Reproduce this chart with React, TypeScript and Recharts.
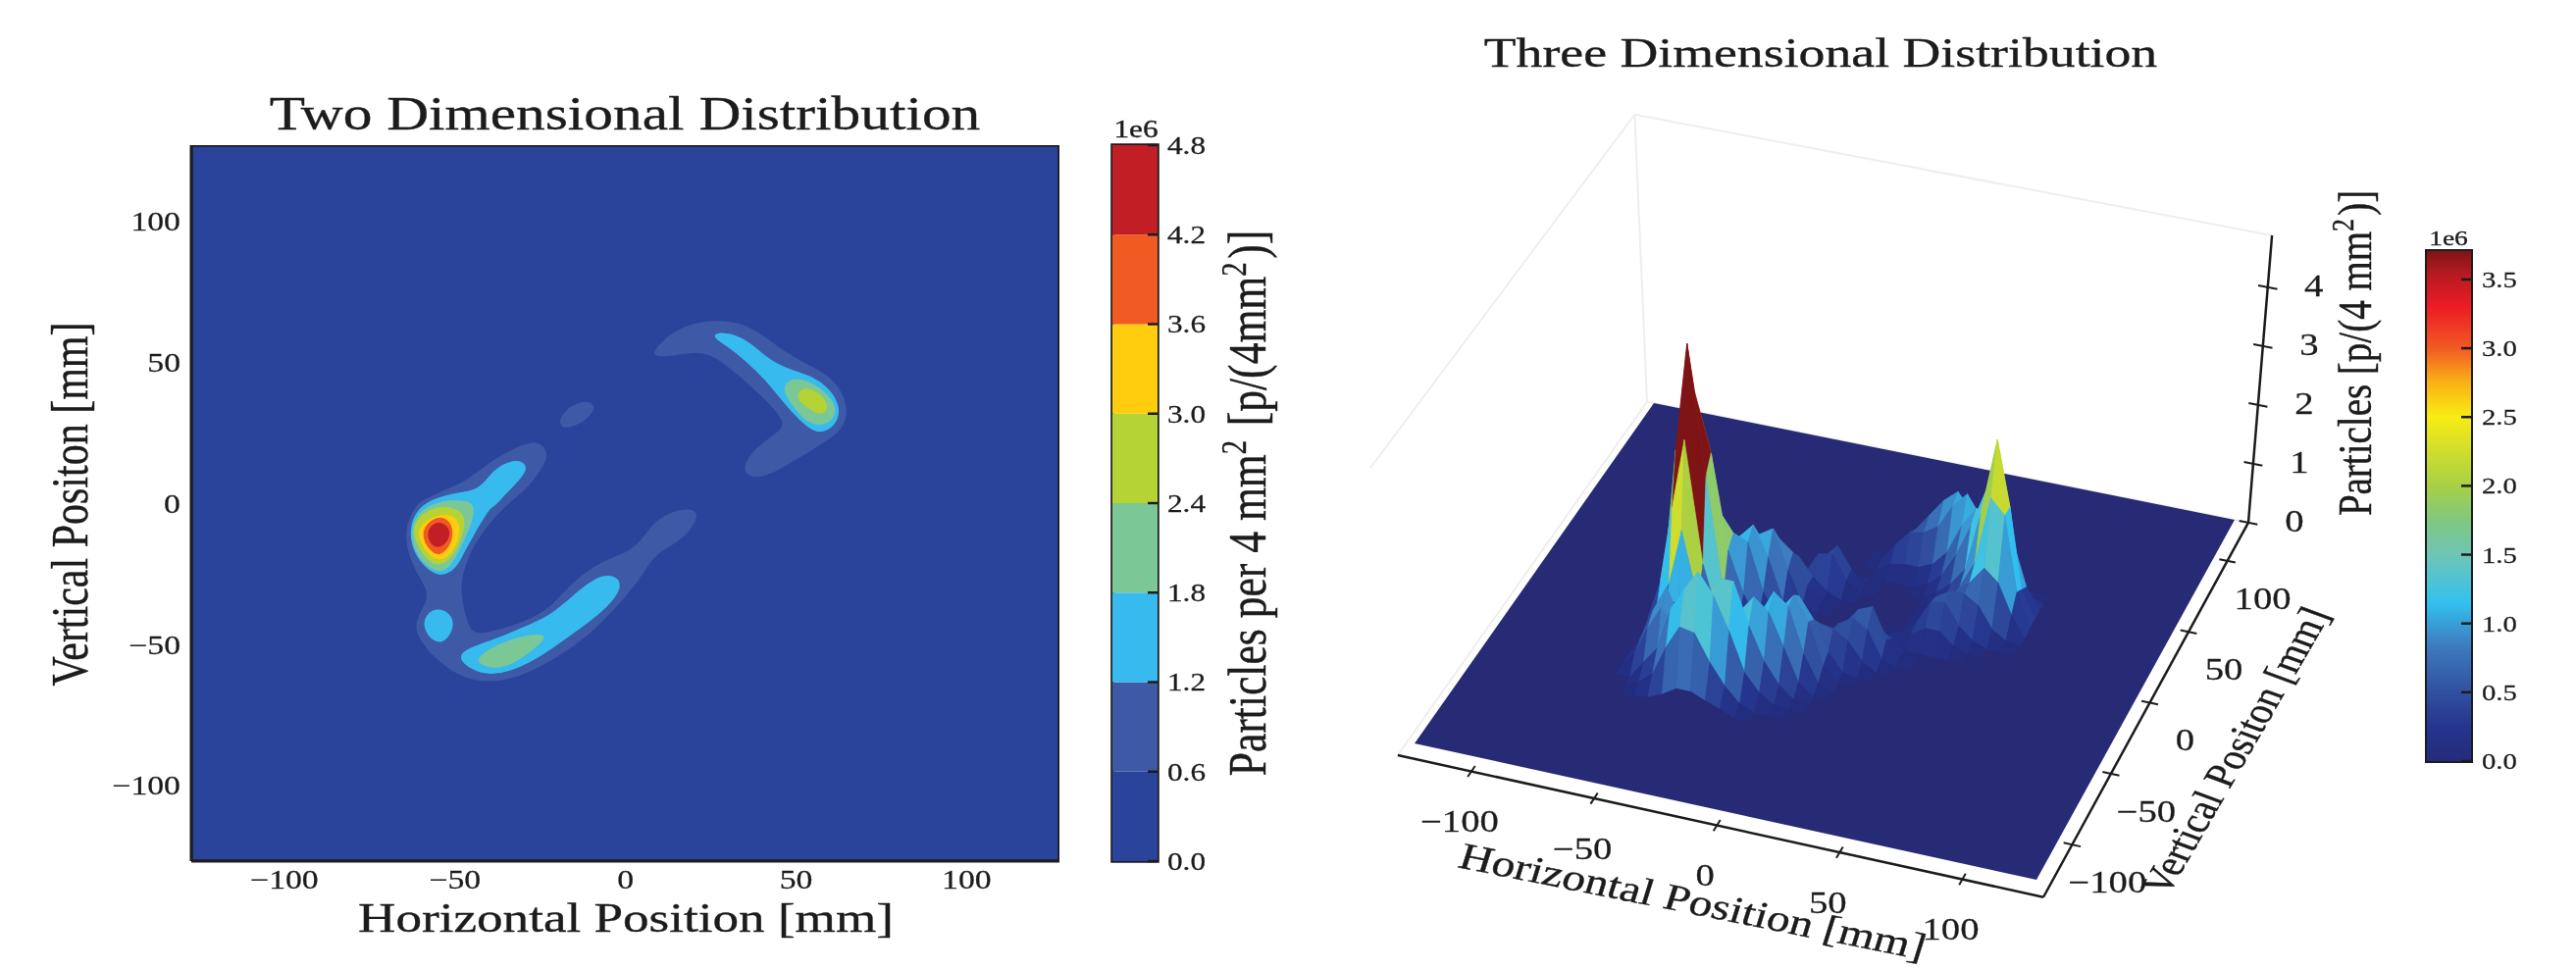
import React from "react";
import { ScatterChart, Scatter, XAxis, YAxis, BarChart, Bar, ReferenceArea } from "recharts";

const FONT = "'Liberation Serif', serif";
const INK = "#1c1c1c";
const BG2D = "#2a439b";
const FLOOR = "#272a75";

// ---------- 2-D contour map ----------
const axisTicks2D = [-100, -50, 0, 50, 100];
const levelEdges = [0, 0.6, 1.2, 1.8, 2.4, 3.0, 3.6, 4.2, 4.8];
const levelColors = ["#2a439b", "#3e59a6", "#37bbee", "#7cc796", "#b6d335", "#ffcd0e", "#f15a22", "#c11e25"];

const ringOuter = [[-24.4,21.2],[-22.4,17.1],[-25,11.3],[-29.5,4.4],[-35.9,-1.4],[-42.3,-10.6],[-46.2,-18.8],[-48.7,-29.2],[-47.2,-38.4],[-45.5,-45.4],[-42.3,-46.5],[-32,-43],[-23,-38.4],[-16.7,-29.2],[-9,-21.6],[-1.3,-18.2],[3.8,-14.7],[7.7,-7.2],[12.8,-3.1],[19,-1.5],[22,-4],[17.5,-12],[12.8,-15.3],[7.7,-19.3],[5,-25.7],[-1.3,-35],[-10.3,-46.5],[-19.2,-54],[-29.5,-61],[-39.7,-63.9],[-48.7,-61.6],[-56.4,-54.6],[-61.5,-46.5],[-61.5,-40.7],[-57,-32.6],[-60.3,-26.9],[-64,-17.6],[-64.7,-8.3],[-61.5,-0.9],[-60,0.9],[-51.3,5.6],[-46.2,8.4],[-41,13.7],[-33.3,19.4],[-27.6,22]];
const arcOuter = [[8.3,54.2],[12.8,60],[19.3,64],[27.8,65.2],[36.2,63.4],[43.5,56.5],[50.8,50.7],[59.2,46],[64.1,39],[65.3,31],[62.9,25.2],[56.8,20.6],[50.8,16],[43.5,10.8],[37.5,8.4],[33.8,11.9],[37.5,19.4],[44.7,25.2],[47.1,28.7],[41.1,36.8],[32.6,46],[25.4,53],[19.3,53.6],[12,51.9],[8.3,52.4]];
const dotOuter = [[-10.5,36.8],[-8.4,33.5],[-12.6,28.4],[-18.4,25.9],[-19.9,29.7],[-16.2,34.9]];
const blobL12 = [[-32,16],[-28.8,13.7],[-29.5,10.2],[-35.3,3.2],[-38.5,-1.4],[-39.7,-1.4],[-44.2,-10.6],[-47.4,-17.6],[-49.4,-22.8],[-53.8,-26.3],[-58.3,-23.4],[-62.2,-17.6],[-63.5,-9.5],[-61.5,-2.5],[-57,1.5],[-50,3.8],[-44.9,4.4],[-41.7,6.7],[-38.5,12.5]];
const blobL18 = [[-43.8,0.3],[-45,-7.2],[-48.3,-15.6],[-51,-22.2],[-54.5,-24.8],[-58.7,-22.2],[-62.4,-15.6],[-62.9,-8.1],[-60,-2],[-53.8,1],[-48.8,1.2]];
const blobL24 = [[-52.4,-0.8],[-46.8,-3.1],[-47.4,-10.8],[-50.2,-18.4],[-54.6,-22.8],[-58.8,-19.6],[-62.4,-11.8],[-61.8,-6],[-57.4,-1.8]];
const blobL30 = [[-53.6,-3],[-48.6,-5.4],[-48.6,-12],[-50.8,-17.6],[-54.6,-21],[-58.2,-17.6],[-61,-12],[-60.4,-7.4]];
const blobL36 = [[-53.6,-4.3],[-50.6,-7.4],[-50.6,-13.2],[-52.9,-17.2],[-55.2,-18.8],[-58.6,-15.2],[-59.8,-9.9],[-57.4,-5.9]];
const blobL42 = [[-54.4,-6],[-51.2,-9],[-51.8,-13.4],[-55.2,-16.6],[-58.2,-12.9],[-57.8,-8.2]];
const dotL12 = [[-55,-37],[-51.3,-38.9],[-50,-43.6],[-52.9,-49.6],[-56.7,-49.1],[-59.6,-43.6],[-58.3,-38.9]];
const ridge12 = [[-7.7,-25.1],[-2.6,-25.7],[-1,-29.2],[-3.8,-35],[-10.3,-41.9],[-19.2,-49.4],[-28.2,-57],[-38.5,-61.3],[-44.9,-59.3],[-49.1,-55.2],[-47.4,-51.7],[-38.5,-48.3],[-29.5,-43.6],[-21.8,-39.6],[-15.4,-32.6]];
const ridge18 = [[-21.4,-45.8],[-27.6,-52.6],[-35.8,-59],[-41.6,-57.8],[-44.4,-55.4],[-38.8,-50.6],[-30.6,-46.8]];
const arc12 = [[24.8,59.4],[28.4,61],[35,58.8],[41.1,51.9],[47.1,47.8],[54.4,45.5],[60.4,40.3],[63.2,33.3],[61.6,27.5],[56.8,24.4],[52.6,27.5],[47.1,34.5],[41.1,43.8],[35,50.7],[29.6,55.9]];
const arc18 = [[48.7,44.8],[54.6,43.3],[60.5,37.6],[62.2,31.8],[59,27.6],[53.6,27.9],[49,34.4],[45.6,40.8]];
const arc24 = [[52.4,41.8],[57.2,39],[59.8,34.4],[57.8,30.8],[53.6,33.6],[49.4,37.8]];

const contours: [number[][], number][] = [
  [ringOuter, 1],[arcOuter, 1],[dotOuter, 1],
  [blobL12, 2],[dotL12, 2],[ridge12, 2],[arc12, 2],
  [blobL18, 3],[ridge18, 3],[arc18, 3],
  [blobL24, 4],[arc24, 4],
  [blobL30, 5],[blobL36, 6],[blobL42, 7],
];
const frame2D = [[-127.3,-126.8],[127.2,-126.8],[127.2,127],[-127.3,127]];
const xy = (p: number[][]) => p.map(([x, y]) => ({ x, y }));

// ---------- colourbars ----------
const cb3dTicks = [0, 0.5, 1, 1.5, 2, 2.5, 3, 3.5];
const cb3dMax = 3.706;
const jetValues = [0, 0.25, 0.5, 0.85, 1.15, 1.5, 1.75, 2.0, 2.5, 2.75, 3.0, 3.3, 3.55, 3.706];
const jetColors = ["#232b7b", "#25358e", "#31509f", "#3d7dc0", "#33c1ef", "#6fc5b5", "#80c880", "#a8cf45", "#f7ec13", "#fbb116", "#f15a24", "#ed1c24", "#b31a21", "#7f1416"];

const hex = (c: string) => [1, 3, 5].map((i) => parseInt(c.slice(i, i + 2), 16));
function jet(v: number) {
  const z = Math.max(0, Math.min(cb3dMax, v));
  let i = 0;
  while (i < jetValues.length - 2 && z > jetValues[i + 1]) i++;
  const t = (z - jetValues[i]) / (jetValues[i + 1] - jetValues[i]);
  const a = hex(jetColors[i]), b = hex(jetColors[i + 1]);
  return `rgb(${a.map((q, k) => Math.round(q + (b[k] - q) * t)).join(",")})`;
}

// ---------- 3-D surface: per row y (mm), runs of [first x (mm), heights every 6 mm] ----------
const gridX = [-72,-66,-60,-54,-48,-42,-36,-30,-24,-18,-12,-6,0,6,12,18,24,30,36,42,48,54,60,66,72];
const surfaceRows: [number, [number, number[]][]][] = [
  [66, [[18, [.1,.2,.2,.1]]]],
  [60, [[6, [.1,.5,.8,1.1,1.3,1.0,.45,.1]]]],
  [54, [[0, [.05,.35,.6,.65,.8,1.2,1.45,1.1,.65,.3]]]],
  [48, [[6, [.15,.2,.2,.3,.55,1.05,1.4,1.25,.95,.5,.1]]]],
  [42, [[24, [.1,.3,.7,1.25,1.9,2.1,1.1,.4,.05]]]],
  [36, [[-24, [.1,.35,.6,.25,.05]], [30, [.15,.35,.65,1.65,2.95,1.85,.5,.05]]]],
  [30, [[-30, [.05,.15,.55,.6,.2]], [30, [.05,.25,.5,.95,2.1,1.85,.6,.05]]]],
  [24, [[-36, [.1,.4,.6,.3,.1]], [30, [.05,.25,.55,.75,1.05,.85,.35]]]],
  [18, [[-42, [.15,.5,1.0,.8,.3,.05]], [30, [.1,.55,.7,.7,.55,.2,.05]]]],
  [12, [[-54, [.05,.2,.55,1.15,1.3,.65,.1]], [30, [.2,.6,.65,.3,.1]]]],
  [6, [[-66, [.05,.25,.45,.7,1.2,1.45,.95,.25,.05]], [18, [.05,.1,.15,.3,.3,.1]]]],
  [0, [[-72, [.05,.35,1.0,1.8,1.75,1.4,1.3,.5,.1]], [6, [.1,.25,.35,.15]]]],
  [-6, [[-72, [.1,.75,2.3,3.85,2.85,1.25,.55,.15]], [0, [.1,.4,.7,.8,.3,.05]]]],
  [-12, [[-72, [.15,.95,2.95,4.8,2.6,.65,.2,.05]], [-12, [.1,.15,.3,.55,.7,.55,.1]]]],
  [-18, [[-72, [.1,.8,2.1,3.3,1.25,.35,.1]], [-18, [.1,.4,.6,.65,.6,.45,.15]]]],
  [-24, [[-66, [.4,.95,1.9,.75,.15]], [-24, [.1,.35,.75,1.2,.85,.35,.05]]]],
  [-30, [[-66, [.2,.5,.85,.65,.1]], [-30, [.05,.25,.6,1.05,1.35,.95,.25]]]],
  [-36, [[-66, [.2,.55,.95,.7,.15,.05,.25,.55,1.05,1.5,1.3,.55,.1]]]],
  [-42, [[-66, [.35,.9,1.35,.8,.35,.25,.55,1.2,1.5,1.3,.75,.2]]]],
  [-48, [[-66, [.25,.75,1.15,.8,.8,1.35,1.85,1.85,1.15,.6,.25,.05]]]],
  [-54, [[-60, [.3,.6,1.3,1.7,2.05,1.7,1.15,.5,.2,.05]]]],
  [-60, [[-60, [.1,.3,.8,1.2,1.15,.7,.35,.1]]]],
  [-66, [[-54, [.05,.15,.3,.3,.2,.1]]]],
];
const gridY = surfaceRows.map((r) => r[0]);
const height = surfaceRows.map(([, runs]) => {
  const row = gridX.map(() => 0);
  runs.forEach(([x0, vals]) => vals.forEach((v, k) => { row[gridX.indexOf(x0) + k] = v; }));
  return row;
});
const ticksX3D = [-100, -50, 0, 50, 100];
const ticksY3D = [-100, -50, 0, 50, 100];
const ticksZ3D = [0, 1, 2, 3, 4];

// view of the 3-D box: where the floor corners land on the page
function project(x: number, y: number, z = 0) {
  const u = (x + 127) / 254, v = (y + 127) / 254;
  const fx = 1442 + 634 * u, fy = 758 + 139 * u, bx = 1686 + 592 * u, by = 411 + 119 * u;
  const sx = fx + (bx - fx) * v, sy = fy + (by - fy) * v;
  return { sx: sx + 0.0615 * (sx - 1890) * z / 5, sy: sy - 60 * z };
}

// the surface's colourbar tops out below the z axis, so facet heights are rescaled before the lookup
const facetShade = (avg: number, mx: number) => {
  const v = 0.65 * avg + 0.35 * mx;
  return v * 0.8 + Math.max(0, v - 2) * 0.5;
};

type Facet = { pts: { sx: number; sy: number }[]; depth: number; color: string };
const facets: Facet[] = [];
for (let r = 0; r < gridY.length - 1; r++) {
  for (let c = 0; c < gridX.length - 1; c++) {
    const zs = [height[r][c], height[r][c + 1], height[r + 1][c + 1], height[r + 1][c]];
    const mx = Math.max(...zs);
    if (mx <= 0) continue;
    const avg = zs.reduce((a, b) => a + b, 0) / 4;
    facets.push({
      pts: [
        project(gridX[c], gridY[r], zs[0]),
        project(gridX[c + 1], gridY[r], zs[1]),
        project(gridX[c + 1], gridY[r + 1], zs[2]),
        project(gridX[c], gridY[r + 1], zs[3]),
      ],
      depth: project((gridX[c] + gridX[c + 1]) / 2, (gridY[r] + gridY[r + 1]) / 2).sy,
      color: jet(facetShade(avg, mx)),
    });
  }
}
facets.sort((a, b) => a.depth - b.depth);

const noShape = () => <g />;

function Txt({ x, y, a = 0, f, anchor = "middle", children }: any) {
  return (
    <text transform={`translate(${x} ${y}) scale(1.25 1) rotate(${a})`} fontFamily={FONT} fontSize={f} fill={INK} stroke={INK} strokeWidth={0.35} textAnchor={anchor}>
      {children}
    </text>
  );
}
const Sup = ({ f, children }: any) => (
  <>
    <tspan dy={-f * 0.36} fontSize={f * 0.66}>{children}</tspan>
    <tspan dy={f * 0.36} fontSize={f}>{"\u200a"}</tspan>
  </>
);
const minus = (v: number) => String(v).replace("-", "\u2212");
const tickText = (f: number, anchor: string, digits = 0) => (p: any) => (
  <text transform={`translate(${p.x} ${p.y}) scale(1.25 1)`} dy="0.35em" fontFamily={FONT} fontSize={f} fill={INK} stroke={INK} strokeWidth={0.25} textAnchor={anchor}>
    {digits ? Number(p.payload.value).toFixed(digits) : minus(p.payload.value)}
  </text>
);

function Plot2D() {
  return (
    <ScatterChart width={1110} height={988} margin={{ top: 148, right: 30, bottom: 0, left: 0 }}>
      <XAxis type="number" dataKey="x" domain={[-127.3, 127.2]} ticks={axisTicks2D} interval={0} height={110} tickSize={-10} tickMargin={29}
        stroke={INK} strokeWidth={3} tick={tickText(27, "middle")} allowDataOverflow />
      <YAxis type="number" dataKey="y" domain={[-126.8, 127]} ticks={axisTicks2D} interval={0} width={195} tickSize={-11} tickMargin={22}
        stroke={INK} strokeWidth={3} tick={tickText(27, "end")} allowDataOverflow />
      <Scatter data={xy(frame2D)} shape={noShape} line={{ fill: BG2D, stroke: "none" }} lineJointType="linearClosed" isAnimationActive={false} />
      {contours.map(([pts, lvl], i) => (
        <Scatter key={i} data={xy(pts)} shape={noShape} line={{ fill: levelColors[lvl], stroke: "none" }} lineJointType="basisClosed" isAnimationActive={false} />
      ))}
      <Scatter data={xy(frame2D)} shape={noShape} line={{ fill: "none", stroke: INK, strokeWidth: 3.5 }} lineJointType="linearClosed" isAnimationActive={false} />
      <Txt x={637} y={132} f={47.5}>Two Dimensional Distribution</Txt>
      <Txt x={638} y={950} f={42.5}>Horizontal Position [mm]</Txt>
      <Txt x={89} y={514} a={-90} f={42}>Vertical Positon [mm]</Txt>
    </ScatterChart>
  );
}

const levelRow = [Object.fromEntries(levelColors.map((_, i) => [`l${i}`, levelEdges[i + 1] - levelEdges[i]]))];

function Colorbar2D() {
  return (
    <BarChart width={220} height={988} data={levelRow} barCategoryGap={0} margin={{ top: 148, right: 0, bottom: 110, left: 14 }}>
      <XAxis hide />
      <YAxis orientation="right" type="number" domain={[0, 4.8]} ticks={levelEdges} interval={0} width={160} tickSize={-10} tickMargin={20}
        stroke={INK} strokeWidth={2.5} tick={tickText(25, "start", 1)} axisLine={false} />
      {levelColors.map((c, i) => (
        <Bar key={c} dataKey={`l${i}`} stackId="a" fill={c} isAnimationActive={false} />
      ))}
      <ReferenceArea y1={0} y2={4.8} fill="none" stroke={INK} strokeWidth={3.5} ifOverflow="visible" />
      <Txt x={38} y={140} f={25}>1e6</Txt>
      <Txt x={170} y={513} a={-90} f={43.6}>
        Particles per 4 mm<Sup f={43.6}>2</Sup> [p/(4mm<Sup f={43.6}>2</Sup>)]
      </Txt>
    </BarChart>
  );
}

const cbRow = [{ v: cb3dMax }];
function Colorbar3D() {
  return (
    <BarChart width={146} height={988} data={cbRow} barCategoryGap={0} margin={{ top: 256, right: 0, bottom: 212, left: 4 }}>
      <defs>
        <linearGradient id="jetGrad" x1="0" y1="1" x2="0" y2="0">
          {jetValues.map((v, i) => <stop key={i} offset={v / cb3dMax} stopColor={jetColors[i]} />)}
        </linearGradient>
      </defs>
      <XAxis hide />
      <YAxis orientation="right" type="number" domain={[0, cb3dMax]} ticks={cb3dTicks} interval={0} width={97} tickSize={-10} tickMargin={21}
        stroke={INK} strokeWidth={2.5} tick={tickText(23, "start", 1)} axisLine={false} />
      <Bar dataKey="v" fill="url(#jetGrad)" isAnimationActive={false} />
      <ReferenceArea y1={0} y2={cb3dMax} fill="none" stroke={INK} strokeWidth={4} ifOverflow="visible" />
      <Txt x={26} y={250} f={22}>1e6</Txt>
    </BarChart>
  );
}

const zTop = 4.88;
const floorPoly = [project(-127, -127), project(127, -127), project(127, 127), project(-127, 127)];
const paneLines = [
  [project(-130, 127, zTop), project(-130, -137, zTop)],
  [project(-130, 127, zTop), project(-130, 127)],
  [project(-130, 127, zTop), project(133, 127, zTop)],
  [project(-130, 127), project(-130, -137)],
  [project(-130, 127), project(133, 127)],
];
const axisLines = [
  [project(-130, -137), project(133, -137)],
  [project(133, -137), project(133, 127)],
  [project(133, 127), project(133, 127, zTop)],
];
const tickMarks = [
  ...ticksX3D.map((t) => [project(t, -141), project(t, -133)]),
  ...ticksY3D.map((t) => [project(129.5, t), project(136.5, t)]),
  ...ticksZ3D.map((t) => [project(129, 127, t), project(137, 127, t)]),
];
const tickLabels = [
  ...ticksX3D.map((t) => { const p = project(t, -137); return { sx: p.sx - 12, sy: p.sy + 51, label: minus(t) }; }),
  ...ticksY3D.map((t) => { const p = project(133, t); return { sx: p.sx + 36, sy: p.sy + 38, label: minus(t) }; }),
  ...ticksZ3D.map((t) => { const p = project(133, 127, t); return { sx: p.sx + 47, sy: p.sy - 2, label: minus(t) }; }),
];
const labelShape = (p: any) => (
  <text transform={`translate(${p.cx} ${p.cy}) scale(1.25 1)`} dy="0.35em" fontFamily={FONT} fontSize={31} fill={INK} stroke={INK} strokeWidth={0.25} textAnchor="middle">
    {p.payload.label}
  </text>
);

function Plot3D() {
  return (
    <ScatterChart width={1090} height={988} margin={{ top: 0, right: 0, bottom: 0, left: 0 }}>
      <XAxis hide type="number" dataKey="sx" domain={[1380, 2470]} allowDataOverflow />
      <YAxis hide type="number" dataKey="sy" domain={[0, 988]} reversed allowDataOverflow />
      {paneLines.map((d, i) => (
        <Scatter key={i} data={d} shape={noShape} line={{ stroke: "#eeeeee", strokeWidth: 2 }} isAnimationActive={false} />
      ))}
      <Scatter data={floorPoly} shape={noShape} line={{ fill: FLOOR, stroke: "none" }} lineJointType="linearClosed" isAnimationActive={false} />
      {facets.map((f, i) => (
        <Scatter key={i} data={f.pts} shape={noShape} line={{ fill: f.color, stroke: f.color, strokeWidth: 0.6 }} lineJointType="linearClosed" isAnimationActive={false} />
      ))}
      {axisLines.map((d, i) => (
        <Scatter key={i} data={d} shape={noShape} line={{ stroke: INK, strokeWidth: 2.5 }} isAnimationActive={false} />
      ))}
      {tickMarks.map((d, i) => (
        <Scatter key={i} data={d} shape={noShape} line={{ stroke: INK, strokeWidth: 2 }} isAnimationActive={false} />
      ))}
      <Scatter data={tickLabels} shape={labelShape} isAnimationActive={false} />
      <Txt x={476} y={68} f={43}>Three Dimensional Distribution</Txt>
      <Txt x={105} y={884} a={14} f={38} anchor="start">Horizontal Position [mm]</Txt>
      <Txt x={829} y={915} a={-65.2} f={36} anchor="start">Vertical Positon [mm]</Txt>
      <Txt x={1037} y={360} a={-90} f={39}>
        Particles [p/(4 mm<Sup f={39}>2</Sup>)]
      </Txt>
    </ScatterChart>
  );
}

const place = (left: number): React.CSSProperties => ({ position: "absolute", left, top: 0 });

export default function App() {
  return (
    <div style={{ position: "absolute", left: 0, top: 0, width: 2626, height: 988, overflow: "hidden", background: "#fff", filter: "blur(0.6px)" }}>
      <div style={place(0)}><Plot2D /></div>
      <div style={place(1120)}><Colorbar2D /></div>
      <div style={place(1380)}><Plot3D /></div>
      <div style={place(2470)}><Colorbar3D /></div>
    </div>
  );
}
